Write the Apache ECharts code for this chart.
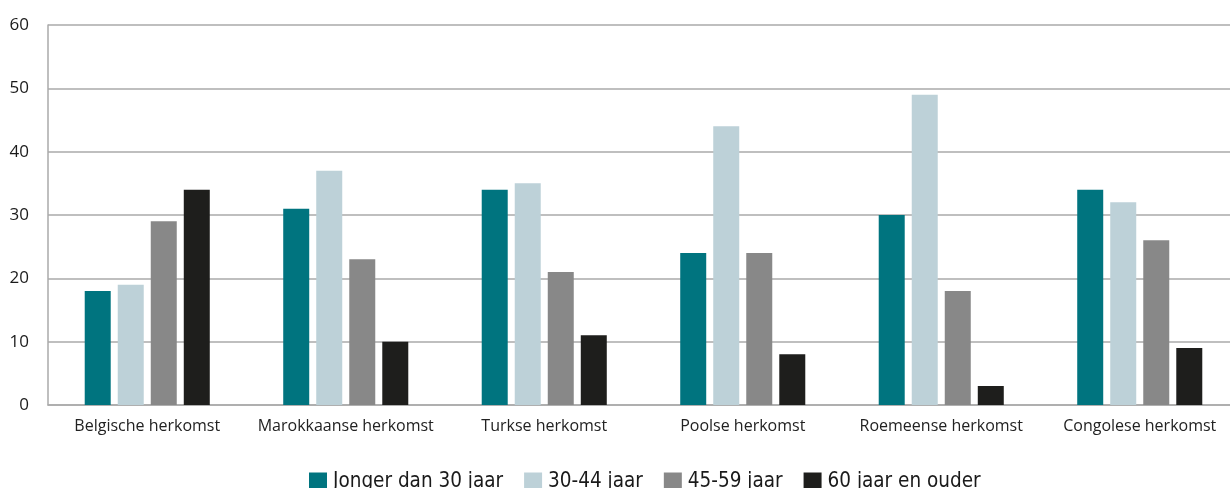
<!DOCTYPE html>
<html>
<head>
<meta charset="utf-8">
<script src="https://cdn.jsdelivr.net/npm/echarts@6/dist/echarts.min.js"></script>
<style>html,body{margin:0;padding:0;background:#fff}#c{width:1230px;height:488px}</style>
</head>
<body>
<div id="c"></div>
<script>
const categories = ['Belgische herkomst','Marokkaanse herkomst','Turkse herkomst','Poolse herkomst','Roemeense herkomst','Congolese herkomst'];
const seriesNames = ['Jonger dan 30 jaar','30-44 jaar','45-59 jaar','60 jaar en ouder'];
const jonger30 = [18,31,34,24,30,34];
const age30_44 = [19,37,35,44,49,32];
const age45_59 = [29,23,21,24,18,26];
const age60plus = [34,10,11,8,3,9];
const yTicks = [0,10,20,30,40,50,60];
const colors = ['#00747f','#bdd1d8','#888888','#1e1e1c'];
const values = [jonger30, age30_44, age45_59, age60plus];

const chart = echarts.init(document.getElementById('c'));
chart.setOption({
  animation:false,
  grid:{left:48,width:1191,top:25,bottom:83,outerBoundsMode:'none',containLabel:false},
  legend:{
    left:309, top:469, padding:0,
    itemWidth:18, itemHeight:18, itemGap:21,
    icon:'rect',
    data:seriesNames,
    textStyle:{fontFamily:'"DejaVu Sans Condensed","Liberation Sans Narrow",sans-serif',fontSize:20.5,color:'#1a1a1a',lineHeight:22,padding:[3,0,0,1]}
  },
  xAxis:{
    type:'category', data:categories,
    axisLine:{lineStyle:{color:'#aaaaaa',width:1.5}},
    axisTick:{inside:true,length:7,lineStyle:{color:'#bbbbbb',width:1.5}},
    axisLabel:{interval:0,fontFamily:'"Open Sans",sans-serif',fontSize:16,color:'#222',margin:13}
  },
  yAxis:{
    type:'value', min:yTicks[0], max:yTicks[yTicks.length-1], interval:10,
    axisLine:{show:true,lineStyle:{color:'#aaaaaa',width:1.5}},
    axisTick:{show:false},
    splitLine:{lineStyle:{color:'#aaaaaa',width:1.5}},
    axisLabel:{fontFamily:'"Open Sans",sans-serif',fontSize:17,color:'#1a1a1a',margin:19,padding:[0,0,10,0]}
  },
  series: seriesNames.map((n,i)=>({
    name:n, type:'bar', data:values[i], barWidth:26, barGap:'27%',
    itemStyle:{color:colors[i]}
  }))
});
</script>
</body>
</html>
